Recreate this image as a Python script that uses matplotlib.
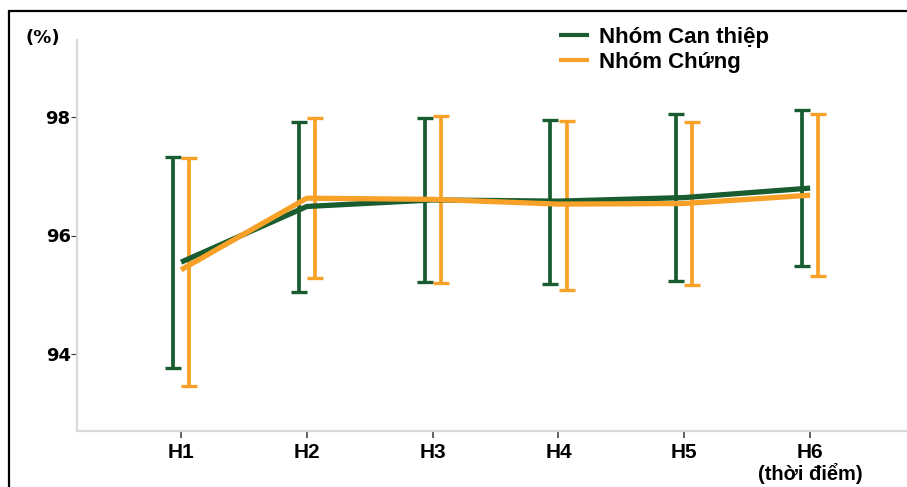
import numpy as np
import matplotlib.pyplot as plt
from matplotlib.patches import Rectangle

# time points and series
labels = ['H1', 'H2', 'H3', 'H4', 'H5', 'H6']
can_thiep = [95.55, 96.49, 96.60, 96.58, 96.64, 96.80]
can_thiep_lo = [93.76, 95.05, 95.22, 95.18, 95.23, 95.49]
can_thiep_hi = [97.32, 97.92, 97.99, 97.95, 98.05, 98.12]
chung = [95.42, 96.63, 96.61, 96.53, 96.54, 96.68]
chung_lo = [93.46, 95.28, 95.20, 95.08, 95.16, 95.32]
chung_hi = [97.31, 97.99, 98.02, 97.94, 97.91, 98.05]

green = '#185c30'
orange = '#f8a128'
x = np.arange(len(labels))
off = 0.064  # error bars shifted a little sideways

fig = plt.figure(figsize=(9.07, 4.87), dpi=100)
ax = fig.add_axes([77/907, 1-431/487, 830/907, 391/487])

for vals, lo, hi, col, dx in [(can_thiep, can_thiep_lo, can_thiep_hi, green, -off),
                              (chung, chung_lo, chung_hi, orange, off)]:
    vals = np.array(vals)
    err = [vals - np.array(lo), np.array(hi) - vals]
    ax.errorbar(x + dx, vals, yerr=err, fmt='none', ecolor=col,
                elinewidth=2.7, capsize=5.8, capthick=2.4, zorder=2)

ax.plot(x, can_thiep, color=green, lw=3.8, zorder=3, solid_capstyle='butt', label='Nhóm Can thiệp')
ax.plot(x, chung, color=orange, lw=3.8, zorder=3, solid_capstyle='butt', label='Nhóm Chứng')

ax.set_xlim(-0.827, 5.77)
ax.set_ylim(92.7, 99.3)
ax.set_yticks([94, 96, 98])
ax.set_yticklabels(['94', '96', '98'], fontfamily='DejaVu Sans', fontweight='bold', fontsize=13)
ax.set_xticks(x)
ax.set_xticklabels(labels, fontfamily='Liberation Sans', fontweight='bold', fontsize=15)

for s in ['top', 'right']:
    ax.spines[s].set_visible(False)
for s in ['left', 'bottom']:
    ax.spines[s].set_color('#d9d9d9')
    ax.spines[s].set_linewidth(1.6)
ax.tick_params(axis='y', length=4, width=0.8, color='#333333', pad=0.5)
ax.tick_params(axis='x', length=5, width=1.2, color='#444444', pad=3.5)

leg = ax.legend(loc='upper left', bbox_to_anchor=(548/907, 1-16/487), bbox_transform=fig.transFigure,
                frameon=False, handlelength=1.35, handletextpad=0.45, labelspacing=0.16,
                borderpad=0, prop={'family': 'Liberation Sans', 'weight': 'bold', 'size': 16})
for h in leg.legend_handles:
    h.set_linewidth(3)

fig.text(43/907, 1-38/487, '(%)', ha='center', va='center', fontfamily='DejaVu Sans',
         fontweight='bold', fontsize=13)
fig.text(810/907, 1-474/487, '(thời điểm)', ha='center', va='center', fontfamily='Liberation Sans',
         fontweight='bold', fontsize=14.5)

# black frame, only left and top edges fall inside the image
fig.patches.append(Rectangle((9/907, -0.2), 1.2, 1.2 - 11/487, transform=fig.transFigure,
                             fill=False, edgecolor='black', lw=1.6, clip_on=False))

fig.savefig('out.png', dpi=100)
